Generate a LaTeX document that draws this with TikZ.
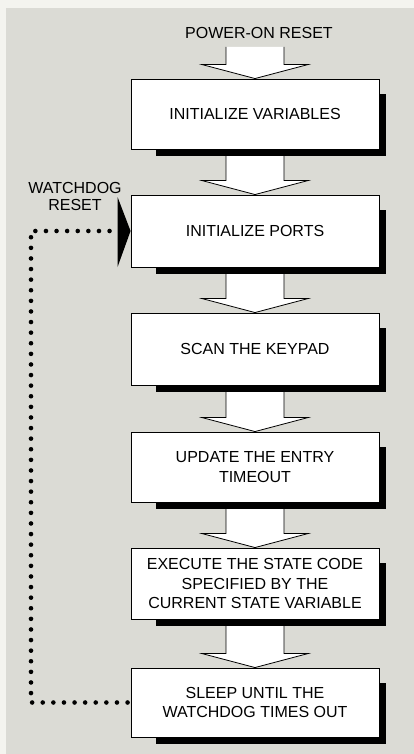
\documentclass[tikz,border=0pt]{standalone}
\usepackage{fontspec}
\setmainfont{Liberation Sans}
\usetikzlibrary{calc}
\pgfdeclarelayer{back}
\pgfsetlayers{back,main}
\definecolor{panel}{HTML}{DBDBD5}
\definecolor{paper}{HTML}{F4F4EF}
\tikzset{
  stepbox/.style={draw=black, line width=0.9pt, fill=white, minimum width=248pt, minimum height=70pt,
    align=center, font=\fontsize{16}{19.5}\selectfont, inner sep=2pt},
  lbl/.style={align=center, font=\fontsize{16}{17}\selectfont, inner sep=0pt},
  fatarrow/.style={draw=black, line width=0.8pt, fill=white, line join=miter},
  shadowfill/.style={fill=black},
  dotline/.style={line width=4.6pt, line cap=round, dash pattern=on 0pt off 10.6pt},
}
\newcommand{\fatarr}[2]{%
  \path[fatarrow] ($(#1)+(-29,0)$) -- ($(#2)+(-29,-14)$) -- ($(#2)+(-53,-14)$) -- (#2)
    -- ($(#2)+(53,-14)$) -- ($(#2)+(29,-14)$) -- ($(#1)+(29,0)$);}
\newcommand{\boxshadow}[1]{%
  \fill[shadowfill] ($(#1.south west)+(25,0)$) rectangle ($(#1.south east)+(7,7)$);
  \fill[shadowfill] ($(#1.north east)+(0,15)$) rectangle ($(#1.south east)+(7,7)$);}
\begin{document}
\begin{tikzpicture}[x=1pt,y=-1pt]
\useasboundingbox (0,0) rectangle (414,754);

\node[stepbox] (b1) at (255,114) {INITIALIZE VARIABLES};
\node[stepbox, minimum height=72pt] (b2) at (255,231) {INITIALIZE PORTS};
\node[stepbox, minimum height=72pt] (b3) at (255,349) {SCAN THE KEYPAD};
\node[stepbox] (b4) at (255,467) {UPDATE THE ENTRY\\TIMEOUT};
\node[stepbox, minimum height=71pt] (b5) at (255,583.5) {EXECUTE THE STATE CODE\\SPECIFIED BY THE\\CURRENT STATE VARIABLE};
\node[stepbox, minimum height=69pt] (b6) at (255,702.5) {SLEEP UNTIL THE\\WATCHDOG TIMES OUT};

\node[lbl] (pwr) at (259,33) {POWER-ON RESET};
\node[lbl] (wdl) at (75,196) {WATCHDOG\\RESET};
\coordinate (pwrfoot) at (255,47);
\coordinate (wdcorner) at (31,231);
\coordinate (wdbase) at (117,231);

\begin{pgfonlayer}{back}
  \fill[paper] (0,0) rectangle (414,754);
  \fill[panel] (6,8) rectangle (414,754);
  \fatarr{pwrfoot}{b1.north}
  \fatarr{b1.south}{b2.north}
  \fatarr{b2.south}{b3.north}
  \fatarr{b3.south}{b4.north}
  \fatarr{b4.south}{b5.north}
  \fatarr{b5.south}{b6.north}
  \boxshadow{b1}
  \boxshadow{b2}
  \boxshadow{b3}
  \boxshadow{b4}
  \boxshadow{b5}
  \boxshadow{b6}
\end{pgfonlayer}

\draw[dotline] ($(b6.west)+(-3,0)$) -| (wdcorner) -- (wdbase);
\fill[black] ($(b2.west)+(-13,-34)$) -- (b2.west) -- ($(b2.west)+(-13,36)$) -- cycle;
\end{tikzpicture}
\end{document}
